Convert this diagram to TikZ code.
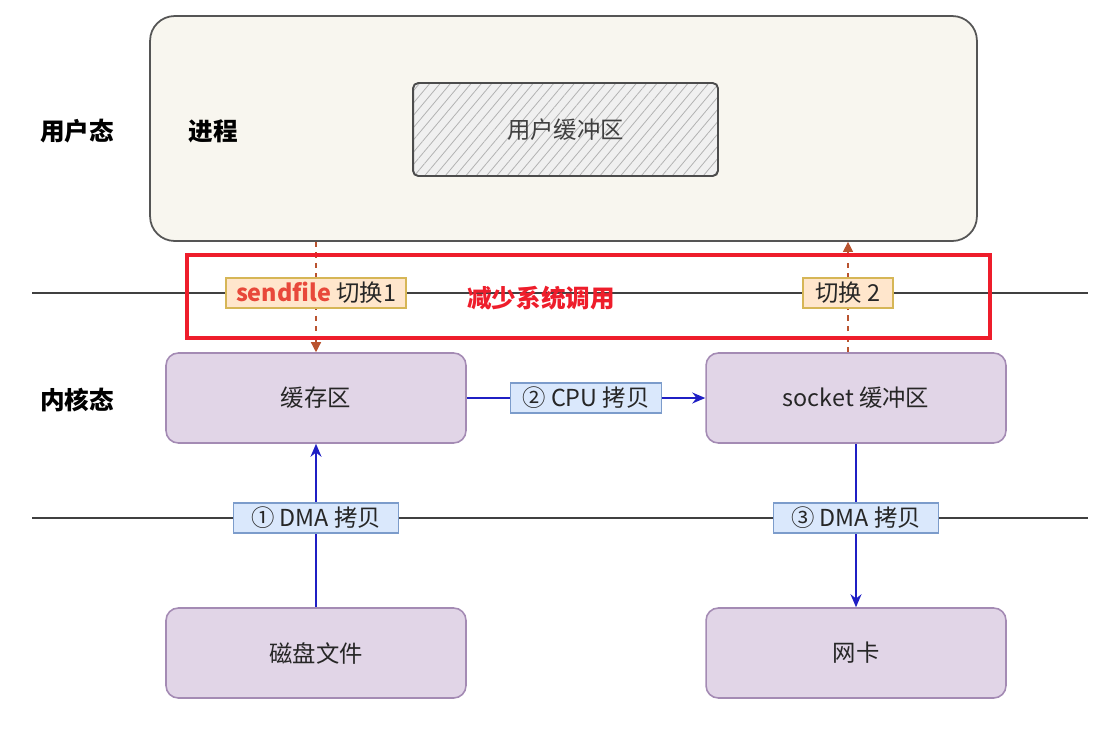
\documentclass[tikz,border=0pt]{standalone}
\usepackage{fontspec}
\setmainfont{Noto Sans CJK SC}
\usetikzlibrary{arrows.meta, positioning, calc, patterns.meta}
\definecolor{cream}{HTML}{F8F6EF}
\definecolor{dkgray}{HTML}{555555}
\definecolor{kfill}{HTML}{E1D5E7}
\definecolor{kline}{HTML}{A48BB4}
\definecolor{bfill}{HTML}{DAE8FC}
\definecolor{bline}{HTML}{7C9CCB}
\definecolor{ofill}{HTML}{FFE6CC}
\definecolor{oline}{HTML}{D6B656}
\definecolor{sysred}{HTML}{EE1D2B}
\definecolor{sfred}{HTML}{E8483A}
\definecolor{swbrown}{HTML}{B9532F}
\definecolor{cpblue}{HTML}{1F1FC4}

\begin{document}
\begin{tikzpicture}[
  x=0.02cm, y=-0.02cm,
  >={Stealth[length=2.6mm, width=2.2mm]},
  txt/.style={font=\fontsize{13.3}{15}\selectfont, text=black!85},
  side/.style={font=\fontsize{14}{16}\selectfont\bfseries},
  kbox/.style={txt, draw=kline, fill=kfill, line width=0.9pt, rounded corners=7pt,
    minimum width=6cm, minimum height=1.8cm},
  cplabel/.style={txt, draw=bline, fill=bfill, line width=0.6pt, inner sep=0pt,
    minimum width=#1, minimum height=0.6cm},
  swlabel/.style={txt, draw=oline, fill=ofill, line width=0.6pt, inner sep=0pt,
    minimum width=#1, minimum height=0.6cm},
  cparrow/.style={->, cpblue, line width=0.8pt},
  swarrow/.style={-{Triangle[length=2mm, width=2mm]}, swbrown, dashed, line width=0.7pt},
]

\useasboundingbox (0,0) rectangle (1097,731);

% === User space ===
\node[draw=dkgray, fill=cream, line width=1pt, rounded corners=14pt,
  minimum width=16.54cm, minimum height=4.5cm] (proc) at (563.5,128.5) {};
\node[draw=black!70, line width=1.1pt, rounded corners=3pt,
  preaction={fill=black!6},
  pattern={Lines[angle=50, distance=4.5pt, line width=0.45pt]}, pattern color=black!30,
  minimum width=6.1cm, minimum height=1.86cm] (ubuf) at (565.5,129.5) {};
\node[txt, text=black!75] at (ubuf) {用户缓冲区};

\node[side] (user) at (77,131) {用户态};
\node[side] (procname) at (213,131) {进程};

% Level lines
\draw[black!75, line width=0.6pt] (32,293) -- (1088,293);
\draw[black!75, line width=0.6pt] (32,518) -- (1088,518);

% === Kernel space ===
\node[side] (kernel) at (77,400) {内核态};
\node[kbox] (cache) at (316,398) {缓存区};
\node[kbox] (sock) at (856,398) {socket 缓冲区};
\node[kbox] (disk) at (316,653) {磁盘文件};
\node[kbox] (nic) at (856,653) {网卡};

% Copies
\draw[cparrow] (cache.east) -- (sock.west)
  node[midway, cplabel=3.02cm] (cpu) {② CPU 拷贝};
\draw[cparrow] (disk.north) -- (cache.south);
\node[cplabel=3.3cm] (dma1) at (316,518) {① DMA 拷贝};
\draw[cparrow] (sock.south) -- (nic.north);
\node[cplabel=3.3cm] (dma3) at (856,518) {③ DMA 拷贝};

% Context switches
\coordinate (up2) at ([xshift=-0.16cm]sock.north);
\draw[swarrow] (proc.south -| cache.north) -- (cache.north);
\draw[swarrow] (up2) -- (up2 |- proc.south);
\node[swlabel=3.6cm] (sw1) at (316,293) {\textcolor{sfred}{\bfseries sendfile} 切换1};
\node[swlabel=1.8cm] (sw2) at (848,293) {切换 2};

% Fewer system calls
\draw[sysred, line width=2.2pt] (187,255) rectangle (990,338);
\node[font=\fontsize{14}{16}\selectfont\bfseries, text=sysred] (fewer) at (541,298) {减少系统调用};

\end{tikzpicture}
\end{document}
